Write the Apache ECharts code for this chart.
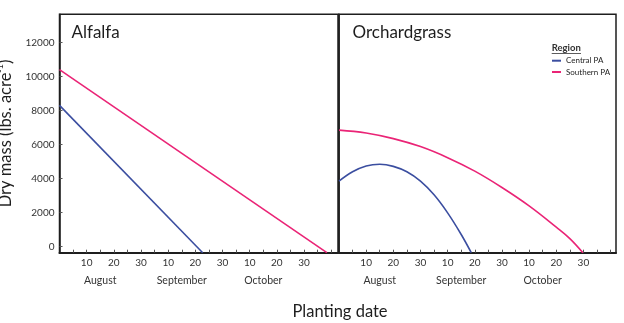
<!DOCTYPE html>
<html>
<head>
<meta charset="utf-8">
<script src="https://cdn.jsdelivr.net/npm/echarts@6/dist/echarts.min.js"></script>
<style>
  html, body { margin: 0; padding: 0; background: #fff; }
  #chart { width: 624px; height: 323px; }
</style>
</head>
<body>
<div id="chart"></div>
<script>
// Days after 31 July on the x axis; dry mass in lbs per acre on the y axis.
const dayTicks = [10, 20, 30, 40, 50, 60, 70, 80, 90];
const dayTickLabels = ['10', '20', '30', '10', '20', '30', '10', '20', '30'];
const monthPositions = [15, 45, 75];
const monthNames = ['August', 'September', 'October'];
const massTicks = [0, 2000, 4000, 6000, 8000, 10000, 12000];

// Alfalfa (straight-line declines)
const alfalfaCentralDays = [0, 52.7];
const alfalfaCentralMass = [8300, -350];
const alfalfaSouthernDays = [0, 98.4];
const alfalfaSouthernMass = [10400, -350];

// Orchardgrass (curved responses)
const orchardCentralDays = [0, 5, 10, 15, 20, 25, 30, 35, 40, 45, 48.7];
const orchardCentralMass = [3850, 4400, 4740, 4840, 4720, 4400, 3850, 3050, 1990, 720, -350];
const orchardSouthernDays = [0, 10, 20, 30, 40, 50, 60, 70, 80, 85, 89.8];
const orchardSouthernMass = [6850, 6680, 6350, 5880, 5230, 4440, 3480, 2400, 1150, 480, -350];

const BLUE = '#3b4ea0';
const PINK = '#ea2476';
const INK = '#1e1e1e';
const FONT = 'Lato';

const pairs = (xs, ys) => xs.map((x, i) => [x, ys[i]]);
const minorTicks = [];
for (let d = 5; d <= 100; d += 5) minorTicks.push(d);

function dayAxis(gridIndex, max) {
  return {
    type: 'value', gridIndex, min: 0, max,
    axisLine: { show: true, onZero: false, lineStyle: { color: INK, width: 2 } },
    axisTick: { show: true, inside: true, length: 3, customValues: minorTicks,
                lineStyle: { color: '#555', width: 1 } },
    axisLabel: {
      customValues: dayTicks, margin: 5, color: '#333', fontFamily: FONT, fontSize: 10,
      formatter: v => dayTickLabels[dayTicks.indexOf(v)] ?? ''
    },
    splitLine: { show: false }
  };
}
function monthAxis(gridIndex, max) {
  return {
    type: 'value', gridIndex, min: 0, max, position: 'bottom',
    axisLine: { show: false, onZero: false }, axisTick: { show: false }, splitLine: { show: false },
    axisLabel: {
      customValues: monthPositions, margin: 22, color: '#333', fontFamily: FONT, fontSize: 10.5,
      formatter: v => monthNames[monthPositions.indexOf(v)] ?? ''
    }
  };
}
function massAxis(gridIndex, withLabels) {
  return {
    type: 'value', gridIndex, min: -350, max: 13650,
    axisLine: { show: true, onZero: false, lineStyle: { color: INK, width: 1.5 } },
    axisTick: { show: withLabels, inside: true, length: 3, customValues: massTicks,
                lineStyle: { color: '#555' } },
    axisLabel: { show: withLabels, customValues: massTicks, margin: 5,
                 color: '#333', fontFamily: FONT, fontSize: 10,
                 formatter: v => String(v) },
    splitLine: { show: false },
    ...(withLabels ? {
      name: 'Dry mass (lbs. acre{sup|-1})',
      nameLocation: 'middle', nameRotate: 90, nameGap: 44,
      nameTextStyle: {
        fontFamily: FONT, fontSize: 16.5, color: INK, lineHeight: 20,
        rich: { sup: { fontFamily: FONT, fontSize: 9, color: INK, verticalAlign: 'top', lineHeight: 10 } }
      }
    } : {})
  };
}
function curve(name, xAxisIndex, yAxisIndex, data, color, smooth) {
  return {
    name, type: 'line', xAxisIndex, yAxisIndex, data, smooth,
    showSymbol: false, symbol: 'none',
    lineStyle: { color, width: 1.6 }, itemStyle: { color }
  };
}

const chart = echarts.init(document.getElementById('chart'), null, { renderer: 'canvas' });
chart.setOption({
  animation: false,
  backgroundColor: '#fff',
  grid: [
    { left: 59.5, top: 14.3, width: 278.5, height: 238.4, show: true,
      borderColor: INK, borderWidth: 1.5, containLabel: false, outerBoundsMode: 'none' },
    { left: 339, top: 14.3, width: 277, height: 238.4, show: true,
      borderColor: INK, borderWidth: 1.5, containLabel: false, outerBoundsMode: 'none' }
  ],
  xAxis: [dayAxis(0, 102.5), monthAxis(0, 102.5), dayAxis(1, 102), monthAxis(1, 102)],
  yAxis: [massAxis(0, true), massAxis(1, false)],
  legend: {
    data: ['Central PA', 'Southern PA'],
    orient: 'vertical', left: 552, top: 55.7, padding: 0,
    itemWidth: 9, itemHeight: 2, itemGap: 1.3, itemTextGap: 3.5, icon: 'rect',
    textStyle: { fontFamily: FONT, fontSize: 8, color: INK, lineHeight: 10 }
  },
  graphic: [
    { type: 'text', x: 71.5, y: 32.3,
      style: { text: 'Alfalfa', fontFamily: FONT, fontSize: 17, fill: INK, verticalAlign: 'middle' } },
    { type: 'text', x: 352.5, y: 32.3,
      style: { text: 'Orchardgrass', fontFamily: FONT, fontSize: 17, fill: INK, verticalAlign: 'middle' } },
    { type: 'text', x: 340, y: 311.7,
      style: { text: 'Planting date', fontFamily: FONT, fontSize: 16.5, fill: INK,
               align: 'center', verticalAlign: 'middle' } },
    { type: 'text', x: 551.7, y: 48.3,
      style: { text: 'Region', fontFamily: FONT, fontSize: 9.5, fontWeight: 'bold', fill: '#333',
               verticalAlign: 'middle' } },
    { type: 'line', shape: { x1: 551.7, y1: 53.5, x2: 581, y2: 53.5 },
      style: { stroke: '#333', lineWidth: 0.8 } }
  ],
  series: [
    curve('Central PA', 0, 0, pairs(alfalfaCentralDays, alfalfaCentralMass), BLUE, false),
    curve('Southern PA', 0, 0, pairs(alfalfaSouthernDays, alfalfaSouthernMass), PINK, false),
    curve('Central PA', 2, 1, pairs(orchardCentralDays, orchardCentralMass), BLUE, 0.4),
    curve('Southern PA', 2, 1, pairs(orchardSouthernDays, orchardSouthernMass), PINK, 0.4)
  ]
});
</script>
</body>
</html>
